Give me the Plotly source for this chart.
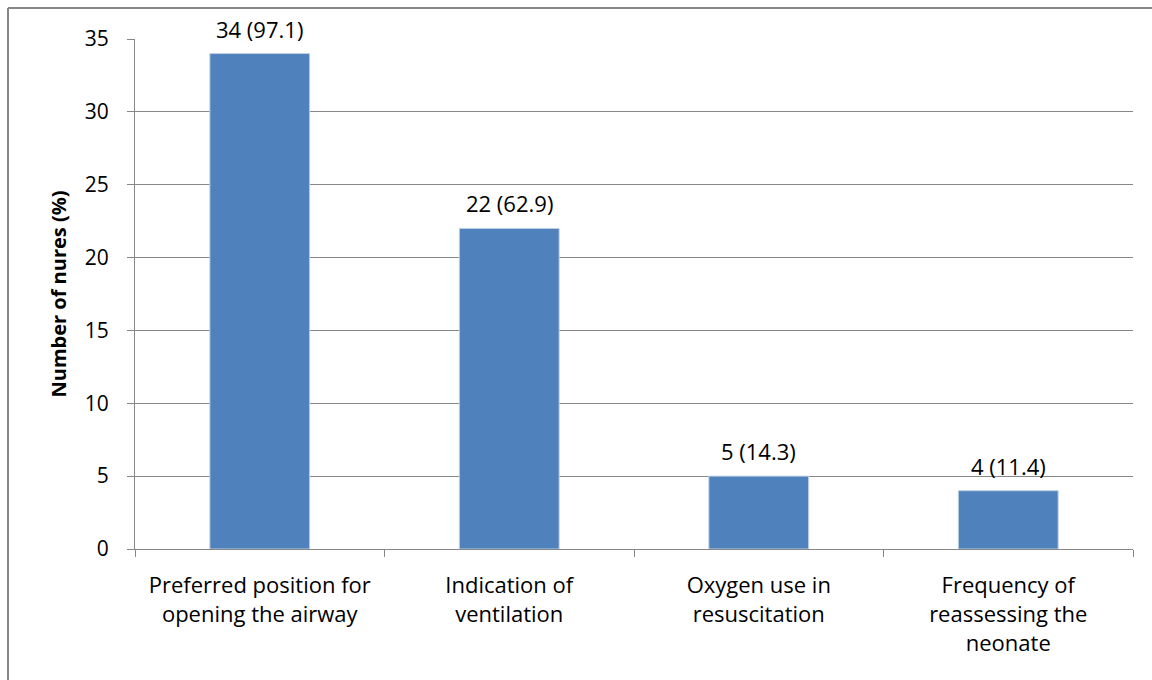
import plotly.graph_objects as go

# Knowledge items and nurse responses
categories = [
    "Preferred position for<br>opening the airway",
    "Indication of<br>ventilation",
    "Oxygen use in<br>resuscitation",
    "Frequency of<br>reassessing the<br>neonate",
]
counts = [34, 22, 5, 4]
percents = [97.1, 62.9, 14.3, 11.4]
y_ticks = [0, 5, 10, 15, 20, 25, 30, 35]

labels = [f"{c} ({p})" for c, p in zip(counts, percents)]

FONT = "Open Sans"
GRID = "#878787"

fig = go.Figure(
    go.Bar(
        x=categories,
        y=counts,
        width=0.4,
        marker=dict(color="#4F81BD", line=dict(color="#BFD0E6", width=1)),
    )
)

# Value labels above each bar
for cat, c, lab in zip(categories, counts, labels):
    fig.add_annotation(
        x=cat, y=c, text=lab, showarrow=False,
        yanchor="bottom", yshift=8,
        font=dict(family=FONT, size=22, color="#000000"),
    )

W, H = 1152, 680
ml, mr, mt, mb = 135, 19, 39, 131
pw, ph = W - ml - mr, H - mt - mb

fig.update_layout(
    width=W,
    height=H,
    margin=dict(l=ml, r=mr, t=mt, b=mb),
    plot_bgcolor="white",
    paper_bgcolor="white",
    showlegend=False,
    font=dict(family=FONT, size=22, color="#000000"),
    xaxis=dict(
        showline=True,
        linecolor=GRID,
        linewidth=1,
        ticks="outside",
        tickson="boundaries",
        ticklen=7,
        tickcolor=GRID,
        showgrid=False,
        ticklabelstandoff=17,
        tickfont=dict(family=FONT, size=22),
    ),
    yaxis=dict(
        range=[0, 35],
        tickvals=y_ticks,
        showline=True,
        linecolor=GRID,
        linewidth=1,
        ticks="outside",
        ticklen=7,
        tickcolor=GRID,
        showgrid=True,
        gridcolor=GRID,
        gridwidth=1,
        zeroline=False,
        ticklabelstandoff=14,
        tickfont=dict(family=FONT, size=21),
        title=dict(
            text="<b>Number of nures (%)</b>",
            font=dict(family=FONT, size=20),
            standoff=12,
        ),
    ),
)

# Outer frame around the chart (left and top edges)
fx0 = (8 - ml) / pw
fy1 = 1 + (mt - 8) / ph
fig.add_shape(type="line", xref="paper", yref="paper",
              x0=fx0, x1=1 + (mr + 10) / pw, y0=fy1, y1=fy1,
              line=dict(color="#868686", width=2))
fig.add_shape(type="line", xref="paper", yref="paper",
              x0=fx0, x1=fx0, y0=fy1, y1=-(mb + 10) / ph,
              line=dict(color="#868686", width=2))

fig.write_html("out.html")
